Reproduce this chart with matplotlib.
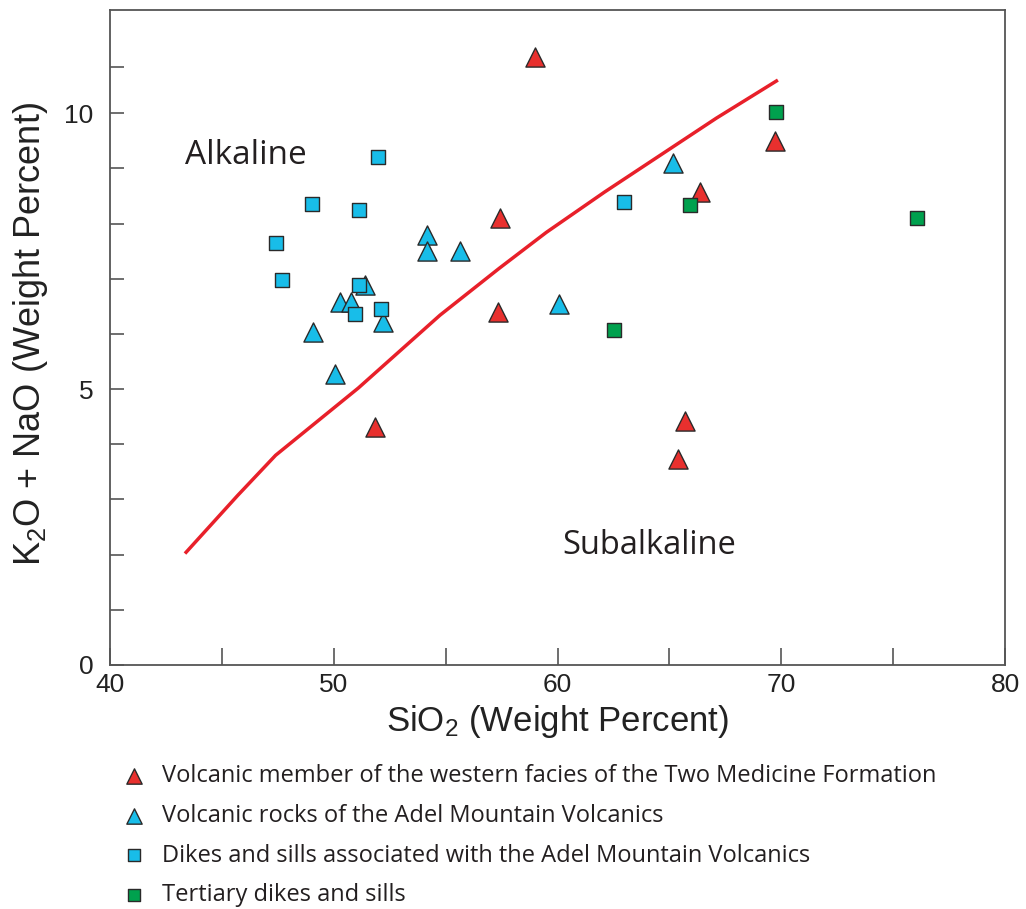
import matplotlib

matplotlib.use("Agg")
import matplotlib.pyplot as plt
from matplotlib.ticker import FixedLocator, MultipleLocator

# boundary line (alkaline / subalkaline)
line_sio2 = [43.35, 45.7, 47.4, 51.1, 54.75, 57.4, 59.5, 62.1, 67.1, 69.85]
line_alk = [2.02, 3.07, 3.80, 5.02, 6.34, 7.19, 7.84, 8.57, 9.91, 10.6]

# Volcanic member of the western facies of the Two Medicine Formation
tm_sio2 = [59.0, 69.72, 66.37, 57.43, 57.34, 51.84, 65.70, 65.39]
tm_alk = [11.01, 9.49, 8.57, 8.10, 6.39, 4.31, 4.42, 3.73]

# Volcanic rocks of the Adel Mountain Volcanics
amv_sio2 = [65.16, 54.17, 54.17, 55.64, 51.40, 50.28, 50.77, 52.2, 49.07, 50.06, 60.07]
amv_alk = [9.09, 7.79, 7.50, 7.50, 6.88, 6.58, 6.58, 6.21, 6.03, 5.27, 6.54]

# Dikes and sills associated with the Adel Mountain Volcanics
dikes_sio2 = [51.98, 49.03, 51.13, 47.42, 47.69, 51.13, 52.11, 50.95, 62.97]
dikes_alk = [9.20, 8.35, 8.24, 7.64, 6.97, 6.88, 6.45, 6.36, 8.39]

# Tertiary dikes and sills
tert_sio2 = [69.77, 65.92, 76.07, 62.53]
tert_alk = [10.02, 8.33, 8.10, 6.07]

# minor y ticks as drawn (the top one sits a bit low in the original)
y_minor = [1, 2, 3, 4, 6, 7, 8, 9, 10.83]

labels = [
    "Volcanic member of the western facies of the Two Medicine Formation",
    "Volcanic rocks of the Adel Mountain Volcanics",
    "Dikes and sills associated with the Adel Mountain Volcanics",
    "Tertiary dikes and sills",
]

RED = "#e8302e"
CYAN = "#18bde9"
GREEN = "#00a14e"
EDGE = "#2a2a2a"
MYRIAD = ["Open Sans", "DejaVu Sans"]

plt.rcParams["font.family"] = ["Liberation Sans", "DejaVu Sans"]
plt.rcParams["mathtext.fontset"] = "custom"
plt.rcParams["mathtext.rm"] = "Liberation Sans"
plt.rcParams["mathtext.default"] = "regular"

fig = plt.figure(figsize=(10.26, 9.09), dpi=100)
ax = fig.add_axes([110 / 1026, 1 - 665 / 909, 895 / 1026, 655 / 909])

ax.plot(line_sio2, line_alk, color="#e8202a", lw=2.5, solid_capstyle="butt", zorder=2)

h1 = ax.scatter(tm_sio2, tm_alk, marker="^", s=190, c=RED, edgecolors=EDGE, linewidths=1.0, zorder=3)
h2 = ax.scatter(amv_sio2, amv_alk, marker="^", s=190, c=CYAN, edgecolors=EDGE, linewidths=1.0, zorder=3)
h3 = ax.scatter(dikes_sio2, dikes_alk, marker="s", s=115, c=CYAN, edgecolors=EDGE, linewidths=1.0, zorder=3)
h4 = ax.scatter(tert_sio2, tert_alk, marker="s", s=115, c=GREEN, edgecolors=EDGE, linewidths=1.0, zorder=3)

ax.set_xlim(40, 80)
ax.set_ylim(0, 11.87)
ax.xaxis.set_major_locator(MultipleLocator(10))
ax.xaxis.set_minor_locator(MultipleLocator(5))
ax.yaxis.set_major_locator(MultipleLocator(5))
ax.yaxis.set_minor_locator(FixedLocator(y_minor))
ax.tick_params(which="both", direction="in", color="#555555", width=1.2, labelsize=19,
               labelcolor="#222222")
ax.tick_params(axis="x", which="both", length=12, pad=6)
ax.tick_params(axis="y", which="both", length=10, pad=12)
for sp in ax.spines.values():
    sp.set_color("#555555")
    sp.set_linewidth(1.3)

ax.set_xlabel("SiO$_{2}$ (Weight Percent)", fontsize=25, color="#222222", labelpad=4)
ax.set_ylabel("K$_{2}$O + NaO (Weight Percent)", fontsize=26, color="#222222")
ax.yaxis.set_label_coords(-0.067, 0.505)

ax.text(43.35, 9.24, "Alkaline", family=MYRIAD, fontsize=24, color="#231f20", va="center", ha="left")
ax.text(60.2, 2.17, "Subalkaline", family=MYRIAD, fontsize=23.5, color="#231f20", va="center", ha="left")

leg = ax.legend([h1, h2, h3, h4], labels, loc="upper left",
                bbox_to_anchor=(112 / 1026, 1 - 755 / 909), bbox_transform=fig.transFigure,
                frameon=False, prop={"family": MYRIAD, "size": 17}, markerscale=0.8,
                handlelength=1.1, handletextpad=0.6, labelspacing=0.66, borderaxespad=0)
for t in leg.get_texts():
    t.set_color("#231f20")

fig.savefig("out.png", dpi=100)
